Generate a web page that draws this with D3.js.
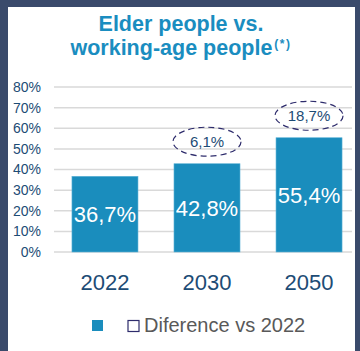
<!DOCTYPE html>
<html>
<head>
<meta charset="utf-8">
<script src="https://cdn.jsdelivr.net/npm/d3@7"></script>
<style>
  html, body { margin: 0; padding: 0; background: #3a4a6b; }
  svg { display: block; font-family: "Liberation Sans", Arial, sans-serif; }
</style>
</head>
<body>
<div id="chart"></div>
<script>
var years = ['2022', '2030', '2050'];
var ratios = [36.7, 42.8, 55.4];
var differences = [null, 6.1, 18.7];
var yTicks = [0, 10, 20, 30, 40, 50, 60, 70, 80];
var titleLines = ['Elder people vs.', 'working-age people'];
var legendLabel = 'Diference vs 2022';

var width = 360, height = 351;
var barColor = '#1a8dbd';
var textBlue = '#1d4c75';
var navy = '#2e2c6c';

var fmt = function(v) { return v.toFixed(1).replace('.', ',') + '%'; };

var svg = d3.select('#chart').append('svg')
            .attr('width', width)
            .attr('height', height);

// dark frame + white panel
svg.append('rect').attr('width', width).attr('height', height).attr('fill', '#3a4a6b');
svg.append('rect').attr('x', 8).attr('y', 7).attr('width', 347).attr('height', height - 7).attr('fill', '#fff');

// title (two separate lines)
var title = svg.append('g')
               .attr('text-anchor', 'middle')
               .attr('font-weight', 'bold')
               .attr('fill', '#1a8dc0');
title.append('text').attr('x', 181).attr('y', 31).attr('font-size', 21.5).text(titleLines[0]);
var t2 = title.append('text').attr('x', 181).attr('y', 54.5).attr('font-size', 21.5);
t2.append('tspan').text(titleLines[1]);
t2.append('tspan').attr('font-size', 12).attr('dy', -7).attr('dx', 2)
  .attr('letter-spacing', 1.5).text('(*)');

var x = d3.scaleBand()
          .domain(years)
          .range([54, 360])
          .paddingInner(0.353)
          .paddingOuter(0.176);

var y = d3.scaleLinear()
          .domain([0, 80])
          .range([252, 87]);

// gridlines
svg.append('g').selectAll('line').data(yTicks)
   .enter().append('line')
   .attr('x1', 54).attr('x2', 352)
   .attr('y1', function(d) { return y(d); })
   .attr('y2', function(d) { return y(d); })
   .attr('stroke', '#d9d9d9')
   .attr('stroke-width', 1.5);

// y axis labels
var yAxis = d3.axisLeft(y).tickValues(yTicks).tickSize(0).tickPadding(0)
              .tickFormat(function(d) { return d + '%'; });
var yg = svg.append('g').attr('transform', 'translate(41,0)').call(yAxis);
yg.select('.domain').remove();
yg.selectAll('text').attr('font-size', 14).attr('fill', textBlue)
  .attr('font-family', '"Liberation Sans", Arial, sans-serif');

// bars
svg.append('g').selectAll('rect').data(ratios)
   .enter().append('rect')
   .attr('x', function(d, i) { return x(years[i]); })
   .attr('y', function(d) { return y(d); })
   .attr('width', x.bandwidth())
   .attr('height', function(d) { return y(0) - y(d); })
   .attr('fill', barColor)
   .attr('stroke', '#5fb3d6')
   .attr('stroke-width', 0.6);

// values inside bars
svg.append('g').selectAll('text').data(ratios)
   .enter().append('text')
   .attr('x', function(d, i) { return x(years[i]) + x.bandwidth() / 2; })
   .attr('y', function(d) { return (y(d) + y(0)) / 2 + 8; })
   .attr('text-anchor', 'middle')
   .attr('font-size', 22)
   .attr('fill', '#fff')
   .text(fmt);

// difference bubbles
var diffs = differences.map(function(d, i) { return {v: d, i: i}; })
                       .filter(function(d) { return d.v !== null; });
var bubble = svg.append('g').selectAll('g').data(diffs)
                .enter().append('g')
                .attr('transform', function(d) {
                  return 'translate(' + (x(years[d.i]) + x.bandwidth() / 2) + ',' + (y(ratios[d.i]) - 22) + ')';
                });
bubble.append('ellipse')
      .attr('rx', 34).attr('ry', 14.5)
      .attr('fill', 'none')
      .attr('stroke', navy)
      .attr('stroke-width', 1.2)
      .attr('stroke-dasharray', '6,4');
bubble.append('text')
      .attr('text-anchor', 'middle')
      .attr('y', 5)
      .attr('font-size', 15)
      .attr('fill', textBlue)
      .text(function(d) { return fmt(d.v); });

// x axis labels
var xAxis = d3.axisBottom(x).tickSize(0).tickPadding(0);
var xg = svg.append('g').attr('transform', 'translate(0,274)').call(xAxis);
xg.select('.domain').remove();
xg.selectAll('text').attr('font-size', 22).attr('fill', textBlue)
  .attr('font-family', '"Liberation Sans", Arial, sans-serif');

// legend
var legend = svg.append('g');
legend.append('rect').attr('x', 92).attr('y', 320).attr('width', 11).attr('height', 11).attr('fill', barColor);
legend.append('rect').attr('x', 128).attr('y', 320.5).attr('width', 11).attr('height', 11)
      .attr('fill', '#fff').attr('stroke', navy).attr('stroke-width', 1.2);
legend.append('text').attr('x', 144).attr('y', 332).attr('font-size', 20).attr('fill', '#595959').text(legendLabel);
</script>
</body>
</html>
